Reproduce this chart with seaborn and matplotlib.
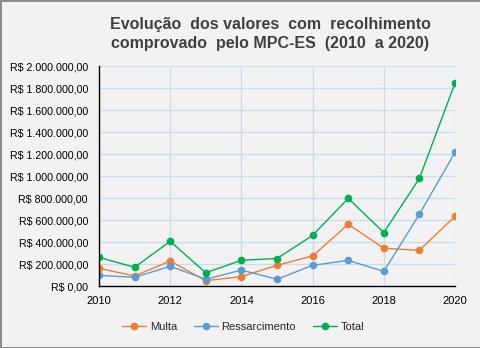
import matplotlib
matplotlib.use("Agg")
import matplotlib.pyplot as plt
from matplotlib.ticker import FuncFormatter, MultipleLocator
import seaborn as sns
import pandas as pd

anos = [2010, 2011, 2012, 2013, 2014, 2015, 2016, 2017, 2018, 2019, 2020]
multa = [161000, 91000, 227000, 48000, 85000, 188000, 273000, 561000, 343000, 324000, 633000]
ressarcimento = [97000, 79000, 179000, 61000, 145000, 61000, 188000, 233000, 133000, 652000, 1215000]
total = [260000, 170000, 406000, 120000, 234000, 250000, 460000, 797000, 486000, 978000, 1845000]

series = ["Multa", "Ressarcimento", "Total"]
cores = ["#ED7D31", "#5B9BD5", "#00B050"]

df = pd.DataFrame({
    "Ano": anos * 3,
    "Valor": multa + ressarcimento + total,
    "Serie": [s for s in series for _ in anos],
})

sns.set_theme(style="white")
plt.rcParams["font.family"] = ["Liberation Sans", "DejaVu Sans"]

fig = plt.figure(figsize=(4.81, 3.48), dpi=100, facecolor="#F2F2F2",
                 edgecolor="#8C8C8C", linewidth=2)
ax = fig.add_axes([99 / 481, 1 - 286 / 348, 356 / 481, 220 / 348])
ax.set_facecolor("#F2F2F2")

sns.lineplot(data=df, x="Ano", y="Valor", hue="Serie", hue_order=series,
             palette=cores, marker="o", markersize=5.5, markeredgewidth=0,
             linewidth=1, ax=ax, legend=True)

ax.set_xlim(2010, 2020)
ax.set_ylim(0, 2000000)
ax.xaxis.set_major_locator(MultipleLocator(2))
ax.yaxis.set_major_locator(MultipleLocator(200000))


def reais(v, pos):
    inteiro = f"{int(round(v)):,}".replace(",", ".")
    return f"R$ {inteiro},00"


ax.yaxis.set_major_formatter(FuncFormatter(reais))
ax.grid(True, color="#C9DCF0", linewidth=0.9)
ax.set_axisbelow(True)
for lado in ["top", "right"]:
    ax.spines[lado].set_visible(False)
for lado in ["left", "bottom"]:
    ax.spines[lado].set_color("black")
    ax.spines[lado].set_linewidth(1)
ax.tick_params(axis="y", labelsize=7.7, colors="black", length=0, pad=8)
ax.tick_params(axis="x", labelsize=8, colors="black", length=0, pad=7)
ax.set_xlabel("")
ax.set_ylabel("")

fig.text(270 / 481, 1 - 34 / 348,
         "Evolução  dos valores  com  recolhimento\ncomprovado  pelo MPC-ES  (2010  a 2020)",
         ha="center", va="center", fontsize=11.5, fontweight="bold",
         color="#404040", linespacing=1.3)

handles, labels = ax.get_legend_handles_labels()
ax.legend(handles, labels, loc="center", bbox_to_anchor=(243 / 481, 1 - 327 / 348),
          bbox_transform=fig.transFigure, ncol=3, frameon=False, fontsize=8,
          handlelength=2.2, handletextpad=0.3, columnspacing=1.5)

fig.savefig("out.png", dpi=100, facecolor=fig.get_facecolor(),
            edgecolor=fig.get_edgecolor())
